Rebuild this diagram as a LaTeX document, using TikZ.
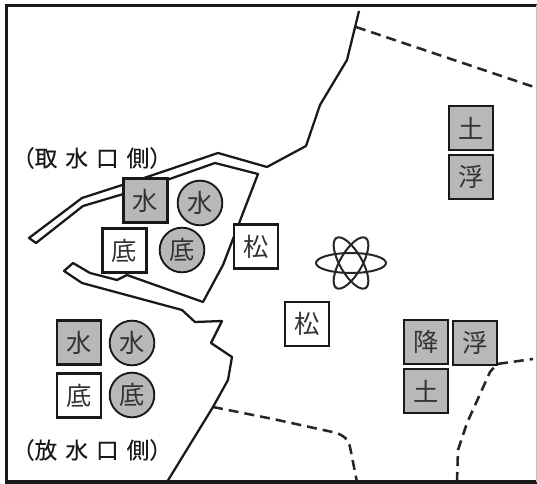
\documentclass[tikz,border=0pt]{standalone}
\usepackage{fontspec}
\newfontfamily\cjk{Noto Sans CJK JP}
\newfontfamily\cjkheavy[FakeBold=0.25]{Noto Sans CJK JP}
\tikzset{
  x=0.75pt,y=-0.75pt,
  coast/.style={line width=1.7pt,line join=round,black!90},
  border/.style={line width=2.8pt,black!90},
  bound/.style={line width=1.9pt,black!85,dash pattern=on 7.5pt off 4.5pt},
  mark box/.style={draw=black!90,line width=1.7pt,minimum size=33pt,inner sep=0pt,font=\cjk\fontsize{19}{19}\selectfont,text=black!80},
  gray box/.style={mark box,fill=black!28},
  white box/.style={mark box,fill=white},
  gray disc/.style={mark box,circle,fill=black!28,line width=1.4pt,minimum size=33.5pt},
  side label/.style={font=\cjkheavy\fontsize{17}{17}\selectfont,text=black!90,inner sep=0pt},
  orbit/.style={line width=1.5pt,black!85}
}
\begin{document}
\begin{tikzpicture}
\useasboundingbox (0,0) rectangle (537,484);
\fill[white] (0,0) rectangle (537,484);
% dashed boundaries
\draw[bound] (356,27) -- (537,88);
\draw[bound] (213,407) -- (273,419) -- (337,433) .. controls (346,437) and (349,441) .. (350,447) -- (357,482);
\draw[bound] (457,482) -- (458,450) -- (467,423) -- (490,372) -- (497,364) -- (533,359);
% coast
\draw[coast] (359,11) -- (347,60) -- (320,105) -- (306,146) -- (267,167) -- (218,153) -- (147,177) -- (82,198) -- (29,238) -- (36,243) -- (83,206) -- (147,187) -- (215,163) -- (258,174) -- (223,265) -- (203,302) -- (127,275) -- (117,280) -- (90,273) -- (73,263) -- (64,271) -- (82,283) -- (182,310) -- (195,322) -- (222,321) -- (211,343) -- (232,357) -- (228,380) -- (213,407) -- (167,482);
% border
\draw[border] (6.5,484) -- (6.5,5.5) -- (537,5.5);
\draw[border] (5,482) -- (537,482);
\draw[black!25,line width=1pt] (536.3,5) -- (536.3,482);
% marks
\node[gray box]  (w1) at (145.5,200.5) {水};
\node[gray disc] (c1) at (200,203) {水};
\node[white box] (b1) at (124.5,250.5) {底};
\node[gray disc] (d1) at (182,250) {底};
\node[white box] (m1) at (256,246.5) {松};
\node[white box] (m2) at (307,324) {松};
\node[gray box]  (w2) at (79,342.5) {水};
\node[gray disc] (c2) at (132,343) {水};
\node[white box] (b2) at (79,395.5) {底};
\node[gray disc] (d2) at (132,395) {底};
\node[gray box]  (s1) at (471,128) {土};
\node[gray box]  (f1) at (471,177) {浮};
\node[gray box]  (r2) at (426,342) {降};
\node[gray box]  (f2) at (475,343) {浮};
\node[gray box]  (s2) at (426,391) {土};
% atom
\draw[orbit] (351,263) ellipse [x radius=35,y radius=10];
\draw[orbit,rotate around={60:(351,263)}] (351,263) ellipse [x radius=29,y radius=11];
\draw[orbit,rotate around={-60:(351,263)}] (351,263) ellipse [x radius=29,y radius=11];
% labels
\node[side label] (l1) at (92,158) {（取\kern6pt水\kern6pt口\kern6pt側）};
\node[side label] (l2) at (92,450) {（放\kern6pt水\kern6pt口\kern6pt側）};
\end{tikzpicture}
\end{document}
